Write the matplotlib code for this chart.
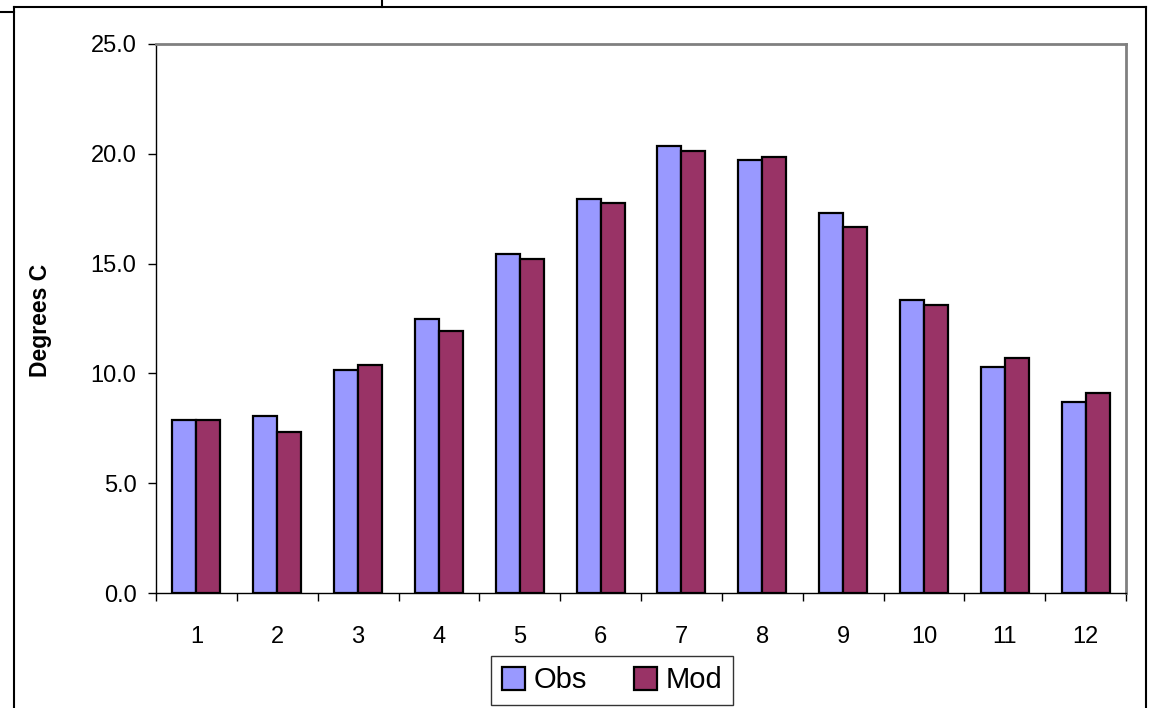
import matplotlib
matplotlib.use("Agg")
import matplotlib.pyplot as plt
from matplotlib.lines import Line2D
import numpy as np

months = [1, 2, 3, 4, 5, 6, 7, 8, 9, 10, 11, 12]
obs = [7.86, 8.06, 10.14, 12.46, 15.44, 17.94, 20.37, 19.72, 17.32, 13.34, 10.28, 8.70]
mod = [7.86, 7.35, 10.38, 11.94, 15.22, 17.75, 20.14, 19.84, 16.68, 13.10, 10.70, 9.10]
yticks = [0, 5, 10, 15, 20, 25]
ytick_labels = ["0.0", "5.0", "10.0", "15.0", "20.0", "25.0"]

W, H = 1152, 708
plt.rcParams['font.family'] = ['Liberation Sans', 'DejaVu Sans']
fig = plt.figure(figsize=(W / 100, H / 100), dpi=100)
ax = fig.add_axes([156 / W, 1 - 593 / H, (1126 - 156) / W, (593 - 44) / H])

x = np.arange(1, len(months) + 1)
bw = 0.296
ax.bar(x - bw / 2, obs, width=bw, color="#9999FF", edgecolor="black", linewidth=1.6, label="Obs", zorder=3)
ax.bar(x + bw / 2, mod, width=bw, color="#993366", edgecolor="black", linewidth=1.6, label="Mod", zorder=3)

ax.set_xlim(0.5, 12.5)
ax.set_ylim(0, 25)
ax.set_yticks(yticks)
ax.set_yticklabels(ytick_labels, fontsize=17)
ax.set_xticks(x)
ax.set_xticklabels([str(m) for m in months], fontsize=17)
ax.set_xticks(np.arange(0.5, 13, 1), minor=True)
ax.tick_params(axis='x', which='major', length=0, pad=24)
ax.tick_params(axis='x', which='minor', length=6, width=1, color='black', direction='out')
ax.tick_params(axis='y', which='major', length=6, width=1, color='black', direction='out', pad=8)

for s in ['top', 'right']:
    ax.spines[s].set_color('#808080')
    ax.spines[s].set_linewidth(2)
for s in ['left', 'bottom']:
    ax.spines[s].set_color('black')
    ax.spines[s].set_linewidth(1)

fig.text(40 / W, 1 - 320 / H, "Degrees C", rotation=90, fontsize=16.5, fontweight='bold',
         ha='center', va='center')

leg = fig.legend(loc='center', bbox_to_anchor=(612 / W, 1 - 680.5 / H), ncol=2, fontsize=21,
                 frameon=True, fancybox=False, edgecolor='black', handlelength=0.8, handleheight=0.8,
                 handletextpad=0.3, columnspacing=1.6, borderpad=0.35)
leg.get_frame().set_linewidth(1)

# outer frame lines
lw = 1.5
def fl(xs, ys):
    fig.add_artist(Line2D([v / W for v in xs], [1 - v / H for v in ys], transform=fig.transFigure,
                          color='black', linewidth=lw))
fl([14, 1146], [7, 7])
fl([14, 14], [7, 708])
fl([1146, 1146], [7, 708])
fl([0, 14], [12, 12])
fl([382, 382], [0, 7])

fig.savefig("out.png", dpi=100, facecolor='white')
